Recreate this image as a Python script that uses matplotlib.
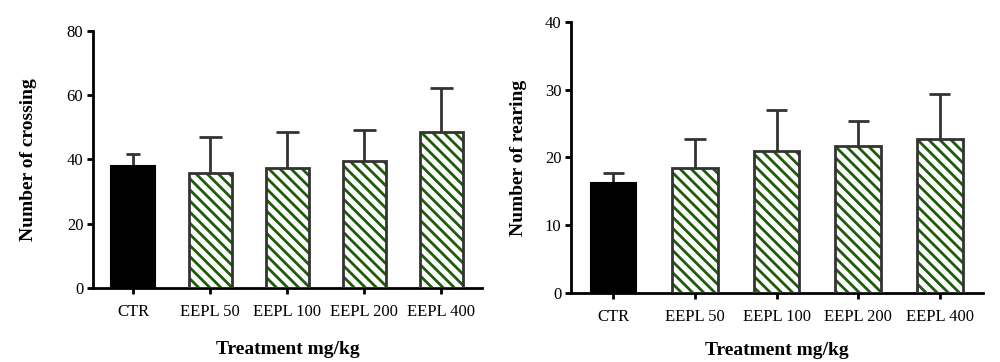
import matplotlib
matplotlib.use("Agg")
import matplotlib.pyplot as plt
import numpy as np

groups = ["CTR", "EEPL 50", "EEPL 100", "EEPL 200", "EEPL 400"]

crossing_mean = [38.0, 35.6, 37.4, 39.5, 48.6]
crossing_upper = [41.5, 46.8, 48.4, 49.1, 62.3]

rearing_mean = [16.2, 18.4, 21.0, 21.7, 22.7]
rearing_upper = [17.7, 22.7, 27.0, 25.4, 29.4]

plt.rcParams["font.family"] = ["Liberation Serif", "DejaVu Serif"]
plt.rcParams["hatch.linewidth"] = 2.0

green = "#1f5c0a"
edge = "#333333"


def draw(ax, means, uppers, ymax, step, ylabel, caps, ypad, xpad):
	x = np.arange(len(groups))
	means = np.array(means)
	err = np.array(uppers) - means
	ax.errorbar(x, means, yerr=[np.zeros_like(err), err], fmt="none",
				ecolor=edge, elinewidth=2, capthick=2, capsize=0, zorder=1)
	for xi, top, c in zip(x, uppers, caps):
		ax.plot([xi - c, xi + c], [top, top], color=edge, lw=2, solid_capstyle="butt", zorder=1)
	w = 0.56
	ax.bar(x[:1], means[:1], width=w, color="black", edgecolor="black", lw=1.5, zorder=2)
	ax.bar(x[1:], means[1:], width=w, color="white", edgecolor=green, hatch="\\\\\\",
		   lw=0, zorder=2)
	ax.bar(x[1:], means[1:], width=w, fill=False, edgecolor=edge, lw=2, zorder=3)
	ax.set_xlim(-0.52, 4.53)
	ax.set_ylim(0, ymax)
	ax.set_yticks(np.arange(0, ymax + 1, step))
	ax.set_xticks(x)
	ax.set_xticklabels(groups)
	for s in ["top", "right"]:
		ax.spines[s].set_visible(False)
	for s in ["left", "bottom"]:
		ax.spines[s].set_linewidth(2)
	ax.tick_params(axis="both", direction="out", length=4, width=2, labelsize=12, pad=3)
	ax.tick_params(axis="x", pad=7.5)
	ax.set_xlabel("Treatment mg/kg", fontsize=14, fontweight="bold", labelpad=xpad)
	ax.set_ylabel(ylabel, fontsize=14, fontweight="bold", labelpad=ypad)


fig = plt.figure(figsize=(10, 3.62), dpi=100)
ax1 = fig.add_axes([0.093, 0.205, 0.389, 0.710])
ax2 = fig.add_axes([0.571, 0.1906, 0.412, 0.749])

draw(ax1, crossing_mean, crossing_upper, 80, 20, "Number of crossing",
	 [0.09, 0.15, 0.15, 0.15, 0.15], 21, 15)
draw(ax2, rearing_mean, rearing_upper, 40, 10, "Number of rearing",
	 [0.13, 0.13, 0.13, 0.13, 0.13], 13, 12)

fig.savefig("out.png", dpi=100)
